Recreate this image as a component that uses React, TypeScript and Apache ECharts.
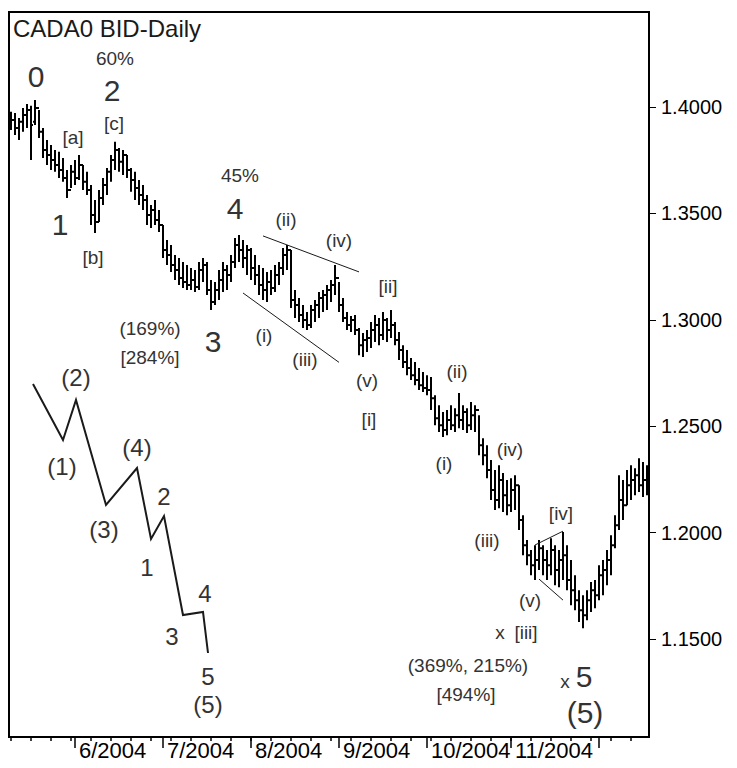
import React, { useEffect, useRef } from "react";
import * as echarts from "echarts";

// Trading days (weekdays) per month, 2004
const MAY_DAYS = [10, 11, 12, 13, 14, 17, 18, 19, 20, 21, 24, 25, 26, 27, 28, 31];
const JUN_DAYS = [1, 2, 3, 4, 7, 8, 9, 10, 11, 14, 15, 16, 17, 18, 21, 22, 23, 24, 25, 28, 29, 30];
const JUL_DAYS = [1, 2, 5, 6, 7, 8, 9, 12, 13, 14, 15, 16, 19, 20, 21, 22, 23, 26, 27, 28, 29, 30];
const AUG_DAYS = [2, 3, 4, 5, 6, 9, 10, 11, 12, 13, 16, 17, 18, 19, 20, 23, 24, 25, 26, 27, 30, 31];
const SEP_DAYS = [1, 2, 3, 6, 7, 8, 9, 10, 13, 14, 15, 16, 17, 20, 21, 22, 23, 24, 27, 28, 29, 30];
const OCT_DAYS = [1, 4, 5, 6, 7, 8, 11, 12, 13, 14, 15, 18, 19, 20, 21, 22, 25, 26, 27, 28, 29];
const NOV_DAYS = [1, 2, 3, 4, 5, 8, 9, 10, 11, 12, 15, 16, 17, 18, 19, 22, 23, 24, 25, 26, 29, 30];
const DEC_DAYS = [1, 2, 3, 6, 7, 8, 9, 10, 13, 14, 15, 16, 17];

const DATES: string[] = [
  ...MAY_DAYS.map((d) => `5/${d}/2004`),
  ...JUN_DAYS.map((d) => `6/${d}/2004`),
  ...JUL_DAYS.map((d) => `7/${d}/2004`),
  ...AUG_DAYS.map((d) => `8/${d}/2004`),
  ...SEP_DAYS.map((d) => `9/${d}/2004`),
  ...OCT_DAYS.map((d) => `10/${d}/2004`),
  ...NOV_DAYS.map((d) => `11/${d}/2004`),
  ...DEC_DAYS.map((d) => `12/${d}/2004`),
];

const OPEN = [
  1.3915, 1.3939, 1.3901, 1.393, 1.3962, 1.3986, 1.393, 1.3995, 1.3883, 1.3798,
  1.3774, 1.3751, 1.3727, 1.3704, 1.3666, 1.361, 1.3695, 1.3666, 1.3727, 1.3648,
  1.361, 1.3492, 1.346, 1.3572, 1.3633, 1.3695, 1.3751, 1.3798, 1.3742, 1.3774,
  1.3704, 1.3657, 1.3619, 1.3586, 1.3563, 1.3492, 1.3516, 1.3469, 1.3445, 1.3328,
  1.3304, 1.3257, 1.3234, 1.3196, 1.3178, 1.3163, 1.3187, 1.3154, 1.3234, 1.3257,
  1.314, 1.3084, 1.314, 1.3187, 1.3234, 1.321, 1.3272, 1.3351, 1.3328, 1.329,
  1.3328, 1.3243, 1.321, 1.3163, 1.314, 1.3178, 1.3149, 1.321, 1.3243, 1.3304,
  1.3328, 1.3093, 1.3069, 1.3022, 1.2999, 1.2975, 1.3046, 1.3069, 1.3102, 1.3116,
  1.314, 1.3163, 1.3196, 1.3069, 1.3008, 1.2975, 1.2999, 1.2952, 1.2881, 1.2905,
  1.2914, 1.2952, 1.2975, 1.2928, 1.2999, 1.2952, 1.2975, 1.2905, 1.2858, 1.2802,
  1.2773, 1.274, 1.2717, 1.2693, 1.2679, 1.267, 1.2632, 1.2538, 1.2505, 1.2482,
  1.2529, 1.2505, 1.2552, 1.2529, 1.2567, 1.2505, 1.2552, 1.2576, 1.2411, 1.2364,
  1.2294, 1.22, 1.2153, 1.2247, 1.2176, 1.2129, 1.22, 1.2223, 1.2059, 1.1941,
  1.1894, 1.1847, 1.1871, 1.1927, 1.1871, 1.1847, 1.1918, 1.1824, 1.1871, 1.1894,
  1.1777, 1.173, 1.1683, 1.1636, 1.1612, 1.1683, 1.173, 1.1706, 1.18, 1.1824,
  1.1871, 1.1941, 1.2035, 1.2153, 1.2129, 1.2223, 1.2247, 1.227, 1.2223, 1.2247,
];
const HIGH = [
  1.3977, 1.3972, 1.3948, 1.3995, 1.4014, 1.4005, 1.4033, 1.3986, 1.3901, 1.3845,
  1.3821, 1.3798, 1.3789, 1.376, 1.3704, 1.3727, 1.3751, 1.3774, 1.3727, 1.3695,
  1.3633, 1.3563, 1.361, 1.3666, 1.3713, 1.3774, 1.3836, 1.3807, 1.3798, 1.3774,
  1.3713, 1.3695, 1.3657, 1.3633, 1.3586, 1.3539, 1.3563, 1.3516, 1.3445, 1.3375,
  1.3351, 1.3304, 1.329, 1.3272, 1.3257, 1.3243, 1.3234, 1.3272, 1.329, 1.3272,
  1.3187, 1.3178, 1.3234, 1.3272, 1.3257, 1.3304, 1.3384, 1.3398, 1.3375, 1.3351,
  1.3337, 1.3304, 1.3257, 1.3243, 1.3225, 1.3234, 1.3257, 1.3272, 1.3337, 1.3351,
  1.3328, 1.314, 1.3102, 1.3069, 1.3037, 1.3069, 1.3093, 1.3131, 1.314, 1.3163,
  1.3187, 1.3257, 1.3178, 1.3102, 1.3037, 1.3018, 1.3022, 1.2961, 1.2938, 1.2952,
  1.299, 1.3022, 1.3008, 1.3037, 1.3008, 1.3046, 1.299, 1.2943, 1.2881, 1.2858,
  1.282, 1.2802, 1.2773, 1.2755, 1.274, 1.2731, 1.2646, 1.2599, 1.2567, 1.2576,
  1.2599, 1.2585, 1.2656, 1.2599, 1.2585, 1.2614, 1.2599, 1.2552, 1.2444, 1.2411,
  1.2341, 1.2294, 1.2317, 1.228, 1.2247, 1.2256, 1.227, 1.2223, 1.2082, 1.1965,
  1.1918, 1.1941, 1.1965, 1.1941, 1.1918, 1.1974, 1.1941, 1.1918, 1.2003, 1.1941,
  1.1871, 1.18, 1.173, 1.1706, 1.173, 1.1768, 1.1777, 1.1847, 1.1871, 1.1918,
  1.1988, 1.2082, 1.227, 1.2247, 1.2294, 1.2317, 1.2303, 1.235, 1.2332, 1.2317,
];
const LOW = [
  1.3892, 1.3868, 1.3845, 1.3883, 1.3901, 1.3751, 1.3915, 1.3854, 1.376, 1.3727,
  1.3704, 1.3695, 1.3666, 1.3648, 1.3572, 1.3619, 1.3633, 1.3657, 1.361, 1.3586,
  1.3445, 1.3408, 1.346, 1.3539, 1.3586, 1.3648, 1.3704, 1.3695, 1.368, 1.3666,
  1.3601, 1.3563, 1.3539, 1.3516, 1.3445, 1.3431, 1.3445, 1.3413, 1.329, 1.3257,
  1.3225, 1.3187, 1.3163, 1.3149, 1.314, 1.314, 1.3131, 1.314, 1.3178, 1.3116,
  1.3046, 1.3069, 1.3093, 1.3131, 1.314, 1.3178, 1.3243, 1.3272, 1.3243, 1.321,
  1.3187, 1.3163, 1.3116, 1.3093, 1.3084, 1.3116, 1.3131, 1.3163, 1.321, 1.3234,
  1.3055, 1.3008, 1.299, 1.2961, 1.2952, 1.2961, 1.299, 1.3008, 1.3037, 1.3046,
  1.3084, 1.3116, 1.3037, 1.299, 1.2952, 1.2943, 1.2928, 1.2834, 1.2825, 1.2849,
  1.2867, 1.2896, 1.2881, 1.2905, 1.2896, 1.2914, 1.2881, 1.2811, 1.2773, 1.274,
  1.2717, 1.2693, 1.267, 1.2661, 1.2646, 1.2576, 1.2505, 1.2473, 1.2449, 1.2458,
  1.2482, 1.2473, 1.2491, 1.2482, 1.2468, 1.2482, 1.2473, 1.2364, 1.2317, 1.2256,
  1.2153, 1.2106, 1.2115, 1.2097, 1.2082, 1.2097, 1.2106, 1.2012, 1.1894, 1.1847,
  1.18, 1.1777, 1.1824, 1.18, 1.1777, 1.18, 1.1753, 1.1744, 1.1777, 1.173,
  1.1659, 1.1636, 1.158, 1.1551, 1.1589, 1.1627, 1.1645, 1.1683, 1.1706, 1.1753,
  1.18, 1.1927, 1.2012, 1.2059, 1.2129, 1.2153, 1.2176, 1.2191, 1.2167, 1.2176,
];
const CLOSE = [
  1.3939, 1.3901, 1.393, 1.3962, 1.3986, 1.3915, 1.3995, 1.3883, 1.3798, 1.3774,
  1.3751, 1.3727, 1.3704, 1.3666, 1.361, 1.3695, 1.3666, 1.3727, 1.3648, 1.361,
  1.3492, 1.346, 1.3572, 1.3633, 1.3695, 1.3751, 1.3798, 1.3742, 1.3774, 1.3704,
  1.3657, 1.3619, 1.3586, 1.3563, 1.3492, 1.3516, 1.3469, 1.3445, 1.3328, 1.3304,
  1.3257, 1.3234, 1.3196, 1.3178, 1.3163, 1.3187, 1.3154, 1.3234, 1.3257, 1.314,
  1.3084, 1.314, 1.3187, 1.3234, 1.321, 1.3272, 1.3351, 1.3328, 1.329, 1.3328,
  1.3243, 1.321, 1.3163, 1.314, 1.3178, 1.3149, 1.321, 1.3243, 1.3304, 1.3328,
  1.3093, 1.3069, 1.3022, 1.2999, 1.2975, 1.3046, 1.3069, 1.3102, 1.3116, 1.314,
  1.3163, 1.3196, 1.3069, 1.3008, 1.2975, 1.2999, 1.2952, 1.2881, 1.2905, 1.2914,
  1.2952, 1.2975, 1.2928, 1.2999, 1.2952, 1.2975, 1.2905, 1.2858, 1.2802, 1.2773,
  1.274, 1.2717, 1.2693, 1.2679, 1.267, 1.2632, 1.2538, 1.2505, 1.2482, 1.2529,
  1.2505, 1.2552, 1.2529, 1.2567, 1.2505, 1.2552, 1.2576, 1.2411, 1.2364, 1.2294,
  1.22, 1.2153, 1.2247, 1.2176, 1.2129, 1.22, 1.2223, 1.2059, 1.1941, 1.1894,
  1.1847, 1.1871, 1.1927, 1.1871, 1.1847, 1.1918, 1.1824, 1.1871, 1.1894, 1.1777,
  1.173, 1.1683, 1.1636, 1.1612, 1.1683, 1.173, 1.1706, 1.18, 1.1824, 1.1871,
  1.1941, 1.2035, 1.2153, 1.2129, 1.2223, 1.2247, 1.227, 1.2223, 1.2247, 1.2214,
];

const Y_TICKS = [1.15, 1.2, 1.25, 1.3, 1.35, 1.4];
const Y_MIN = 1.104;
const Y_MAX = 1.4446;

// Trendlines: [bar index, price] pairs
const TREND_UPPER = [[63, 1.3394], [87, 1.3225]];
const TREND_LOWER = [[58, 1.3126], [82, 1.28]];
const TRI_UPPER = [[131, 1.1942], [138, 1.2007]];
const TRI_LOWER = [[132, 1.1782], [138, 1.1683]];

const FONT = 'Arial, "Liberation Sans", sans-serif';
const INK = "#1a1a1a";

// Annotation labels: text, x, y, size
const LABELS: [string, number, number, number][] = [
  ["60%", 115, 58, 19],
  ["0", 36, 76, 30],
  ["2", 112, 90, 30],
  ["[c]", 114, 123, 19],
  ["[a]", 73, 137, 19],
  ["1", 60, 224, 30],
  ["[b]", 93, 257, 19],
  ["45%", 240, 175, 19],
  ["4", 235, 208, 30],
  ["(ii)", 286, 219, 19],
  ["(iv)", 339, 240, 19],
  ["[ii]", 388, 286, 19],
  ["(169%)", 150, 328, 19],
  ["[284%]", 150, 357, 19],
  ["3", 213, 341, 30],
  ["(i)", 264, 335, 19],
  ["(iii)", 305, 359, 19],
  ["(v)", 367, 380, 19],
  ["[i]", 369, 419, 19],
  ["(ii)", 457, 371, 19],
  ["(i)", 444, 463, 19],
  ["(iv)", 510, 449, 19],
  ["(iii)", 487, 540, 19],
  ["[iv]", 561, 513, 19],
  ["(v)", 530, 600, 19],
  ["x", 500, 632, 19],
  ["[iii]", 526, 632, 19],
  ["(369%, 215%)", 468, 665, 19],
  ["[494%]", 466, 694, 19],
  ["x", 565, 681, 19],
  ["5", 584, 676, 30],
  ["(5)", 585, 712, 30],
  ["(2)", 76, 377, 24],
  ["(1)", 62, 466, 24],
  ["(4)", 137, 447, 24],
  ["(3)", 104, 529, 24],
  ["2", 164, 496, 24],
  ["1", 147, 567, 24],
  ["4", 205, 593, 24],
  ["3", 172, 636, 24],
  ["5", 208, 676, 24],
  ["(5)", 208, 704, 24],
];

// Schematic wave sketch (pixel layout)
const SKETCH = [
  [33, 384], [63, 440], [76, 400], [106, 505], [137, 468],
  [151, 539], [164, 516], [183, 615], [203, 612], [208, 653],
];

function parseDate(s: string) {
  const [m, d, y] = s.split("/").map(Number);
  return { m, d, y };
}

export default function App() {
  const ref = useRef<HTMLDivElement>(null);

  useEffect(() => {
    if (!ref.current) return;
    const chart = echarts.init(ref.current, undefined, { renderer: "svg" });

    const isMonday = (idx: number) => {
      const { m, d, y } = parseDate(DATES[idx]);
      return new Date(y, m - 1, d).getDay() === 1;
    };
    const isMonthStart = (idx: number) => {
      if (idx === 0) return false;
      return parseDate(DATES[idx]).m !== parseDate(DATES[idx - 1]).m;
    };
    const isLabelled = (idx: number) =>
      isMonthStart(idx) && parseDate(DATES[idx]).m !== 12;

    const ohlc = DATES.map((_, i) => [i, OPEN[i], HIGH[i], LOW[i], CLOSE[i]]);

    const trend = (data: number[][]) => ({
      type: "line",
      data,
      symbol: "none",
      silent: true,
      lineStyle: { color: INK, width: 1 },
      z: 3,
    });

    const graphics: any[] = [
      {
        type: "text",
        x: 13,
        y: 28,
        style: {
          text: "CADA0 BID-Daily",
          font: `24px ${FONT}`,
          fill: INK,
          align: "left",
          verticalAlign: "middle",
        },
      },
      ...LABELS.map(([t, x, y, s]) => ({
        type: "text",
        x,
        y,
        style: {
          text: t,
          font: `${s}px ${FONT}`,
          fill: "#333",
          align: "center",
          verticalAlign: "middle",
        },
      })),
      {
        type: "polyline",
        shape: { points: SKETCH },
        style: { stroke: INK, lineWidth: 2, fill: null },
      },
    ];

    chart.setOption({
      animation: false,
      backgroundColor: "#fff",
      grid: {
        left: 9,
        top: 12,
        width: 640,
        height: 725,
        show: true,
        borderColor: "#000",
        borderWidth: 2,
        backgroundColor: "transparent",
      },
      xAxis: [
        {
          type: "category",
          data: DATES,
          position: "bottom",
          boundaryGap: true,
          axisLine: { show: true, lineStyle: { color: "#000", width: 2 } },
          axisTick: {
            show: true,
            alignWithLabel: true,
            interval: (idx: number) => isMonday(idx),
            length: 4,
            lineStyle: { color: "#000", width: 1.5 },
          },
          axisLabel: { show: false },
          splitLine: { show: false },
        },
        {
          type: "category",
          data: DATES,
          position: "bottom",
          boundaryGap: true,
          axisLine: { show: false },
          axisTick: {
            show: true,
            alignWithLabel: true,
            interval: (idx: number) => isMonthStart(idx),
            length: 11,
            lineStyle: { color: "#000", width: 1.5 },
          },
          axisLabel: {
            show: true,
            interval: (idx: number) => isLabelled(idx),
            formatter: (v: string) => {
              const { m, y } = parseDate(v);
              return `${m}/${y}`;
            },
            align: "left",
            padding: [0, 0, 0, 4],
            margin: 2,
            color: "#000",
            fontSize: 22,
            fontFamily: FONT,
          },
          splitLine: { show: false },
        },
      ],
      yAxis: {
        type: "value",
        position: "right",
        min: Y_MIN,
        max: Y_MAX,
        axisLine: { show: true, lineStyle: { color: "#000", width: 2 } },
        axisTick: {
          show: true,
          inside: false,
          length: 7,
          customValues: Y_TICKS,
          lineStyle: { color: "#000", width: 1 },
        },
        axisLabel: {
          show: true,
          customValues: Y_TICKS,
          formatter: (v: number) => v.toFixed(4),
          margin: 12,
          color: "#000",
          fontSize: 20,
          fontFamily: FONT,
        },
        splitLine: { show: false },
      },
      series: [
        {
          type: "custom",
          xAxisIndex: 0,
          yAxisIndex: 0,
          data: ohlc,
          encode: { x: 0, y: [1, 2, 3, 4] },
          silent: true,
          z: 2,
          renderItem: (_params: any, api: any) => {
            const i = api.value(0);
            const top = api.coord([i, api.value(2)]);
            const bot = api.coord([i, api.value(3)]);
            const op = api.coord([i, api.value(1)]);
            const cl = api.coord([i, api.value(4)]);
            const x = Math.round(top[0]);
            const st = { stroke: "#000", lineWidth: 2 };
            return {
              type: "group",
              children: [
                { type: "line", shape: { x1: x, y1: top[1], x2: x, y2: bot[1] }, style: st },
                { type: "line", shape: { x1: x - 2, y1: op[1], x2: x, y2: op[1] }, style: st },
                { type: "line", shape: { x1: x, y1: cl[1], x2: x + 2, y2: cl[1] }, style: st },
              ],
            };
          },
        },
        trend(TREND_UPPER),
        trend(TREND_LOWER),
        trend(TRI_UPPER),
        trend(TRI_LOWER),
      ],
      graphic: graphics,
    });

    return () => chart.dispose();
  }, []);

  return (
    <div
      ref={ref}
      style={{ position: "fixed", left: 0, top: 0, width: 737, height: 768, background: "#fff" }}
    />
  );
}
